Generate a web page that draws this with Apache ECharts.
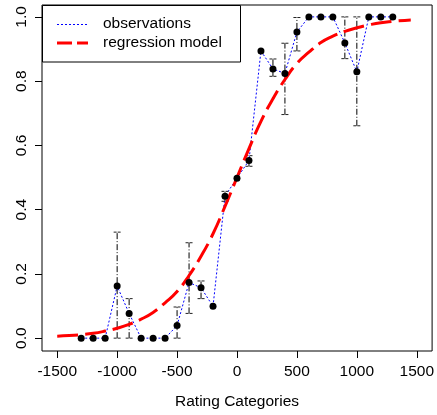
<!DOCTYPE html>
<html>
<head>
<meta charset="utf-8">
<script src="https://cdn.jsdelivr.net/npm/echarts@6/dist/echarts.min.js"></script>
<style>html,body{margin:0;padding:0;background:#fff}#c{width:437px;height:415px}</style>
</head>
<body>
<div id="c"></div>
<script>
// Observed rating categories and proportions
const obsX = [-1300,-1200,-1100,-1000,-900,-800,-700,-600,-500,-400,-300,-200,-100,0,100,200,300,400,500,600,700,800,900,1000,1100,1200,1300];
const obsY = [0,0,0,0.162,0.077,0,0,0,0.039,0.173,0.157,0.099,0.442,0.498,0.553,0.894,0.838,0.824,0.953,1,1,1,0.919,0.829,1,1,1];
const errLow  = [null,null,null,0,0,null,null,null,0,0.077,0.123,null,0.426,null,0.535,null,0.815,0.696,0.894,null,null,null,0.870,0.661,null,null,null];
const errHigh = [null,null,null,0.330,0.123,null,null,null,0.097,0.297,0.178,null,0.457,null,0.568,null,0.869,0.918,0.998,null,null,null,1.0,1.0,null,null,null];
// Regression model curve
const regX = [-1500,-1400,-1300,-1200,-1100,-1000,-900,-800,-700,-600,-500,-400,-300,-200,-100,0,100,200,300,400,500,600,700,800,900,1000,1100,1200,1300,1400,1450];
const regY = [0.006,0.008,0.011,0.015,0.022,0.031,0.043,0.059,0.080,0.110,0.145,0.195,0.255,0.325,0.41,0.50,0.59,0.675,0.745,0.805,0.855,0.89,0.92,0.94,0.955,0.966,0.975,0.982,0.986,0.989,0.990];
const xTicks = [-1500,-1000,-500,0,500,1000,1500];
const yTicks = [0,0.2,0.4,0.6,0.8,1.0];

const FONT = 'Liberation Sans, Arial, sans-serif';
const chart = echarts.init(document.getElementById('c'), null, {renderer:'canvas'});

const obsData = obsX.map((x,i)=>[x,obsY[i]]);
const regData = regX.map((x,i)=>[x,regY[i]]);
const errData = [];
obsX.forEach((x,i)=>{ if(errLow[i]!==null) errData.push([x,errLow[i],errHigh[i]]); });

chart.setOption({
  animation:false,
  backgroundColor:'#fff',
  grid:{left:42, top:5, width:391, height:346, show:true, borderColor:'#000', borderWidth:1, backgroundColor:'transparent'},
  xAxis:{
    type:'value', min:-1627, max:1628,
    axisLine:{show:false, onZero:false},
    splitLine:{show:false},
    axisTick:{show:true, length:7, lineStyle:{color:'#000'}, customValues:xTicks},
    axisLabel:{customValues:xTicks, color:'#000', fontSize:15.5, fontFamily:FONT, margin:13, formatter:v=>String(v)},
    name:'Rating Categories', nameLocation:'middle', nameGap:43,
    nameTextStyle:{color:'#000', fontSize:15.5, fontFamily:FONT}
  },
  yAxis:{
    type:'value', min:-0.04, max:1.037,
    axisLine:{show:false, onZero:false},
    splitLine:{show:false},
    axisTick:{show:true, length:7, lineStyle:{color:'#000'}, customValues:yTicks},
    axisLabel:{customValues:yTicks, rotate:90, color:'#000', fontSize:15.5, fontFamily:FONT, margin:12,
      formatter:v=>Number(v).toFixed(1)}
  },
  series:[
    {
      type:'line', data:obsData, symbol:'none', z:2,
      lineStyle:{color:'#0000ff', width:1, type:[2,2]}
    },
    {
      type:'custom', z:3,
      data:errData,
      renderItem:function(params, api){
        const x = api.value(0);
        const lo = api.coord([x, api.value(1)]);
        const hi = api.coord([x, api.value(2)]);
        const w = 3.5;
        const st = {stroke:'#000', lineWidth:1, lineDash:[6,2,1,2]};
        return {type:'group', children:[
          {type:'line', shape:{x1:lo[0], y1:lo[1], x2:hi[0], y2:hi[1]}, style:st},
          {type:'line', shape:{x1:lo[0]-w, y1:lo[1], x2:lo[0]+w, y2:lo[1]}, style:{stroke:'#222', lineWidth:1, lineDash:[3,1]}},
          {type:'line', shape:{x1:hi[0]-w, y1:hi[1], x2:hi[0]+w, y2:hi[1]}, style:{stroke:'#222', lineWidth:1, lineDash:[3,1]}}
        ]};
      }
    },
    {
      type:'line', data:regData, symbol:'none', smooth:true, z:4,
      lineStyle:{color:'#ff0000', width:3, type:[21,7]}
    },
    {
      type:'scatter', data:obsData, symbol:'circle', symbolSize:7, z:5,
      itemStyle:{color:'#000', opacity:1}
    }
  ],
  graphic:[
    {type:'rect', z:100, shape:{x:42.5, y:5.5, width:198, height:56.5}, style:{fill:'#fff', stroke:'#000', lineWidth:1}},
    {type:'line', z:101, shape:{x1:57, y1:24.5, x2:88, y2:24.5}, style:{stroke:'#0000ff', lineWidth:1, lineDash:[2,2]}},
    {type:'line', z:101, shape:{x1:57, y1:43, x2:88, y2:43}, style:{stroke:'#ff0000', lineWidth:3, lineDash:[15,5]}},
    {type:'text', z:101, x:103, y:24, style:{text:'observations', fill:'#000', font:'15.5px '+FONT, verticalAlign:'middle', align:'left'}},
    {type:'text', z:101, x:103, y:43, style:{text:'regression model', fill:'#000', font:'15.5px '+FONT, verticalAlign:'middle', align:'left'}}
  ]
});
</script>
</body>
</html>
